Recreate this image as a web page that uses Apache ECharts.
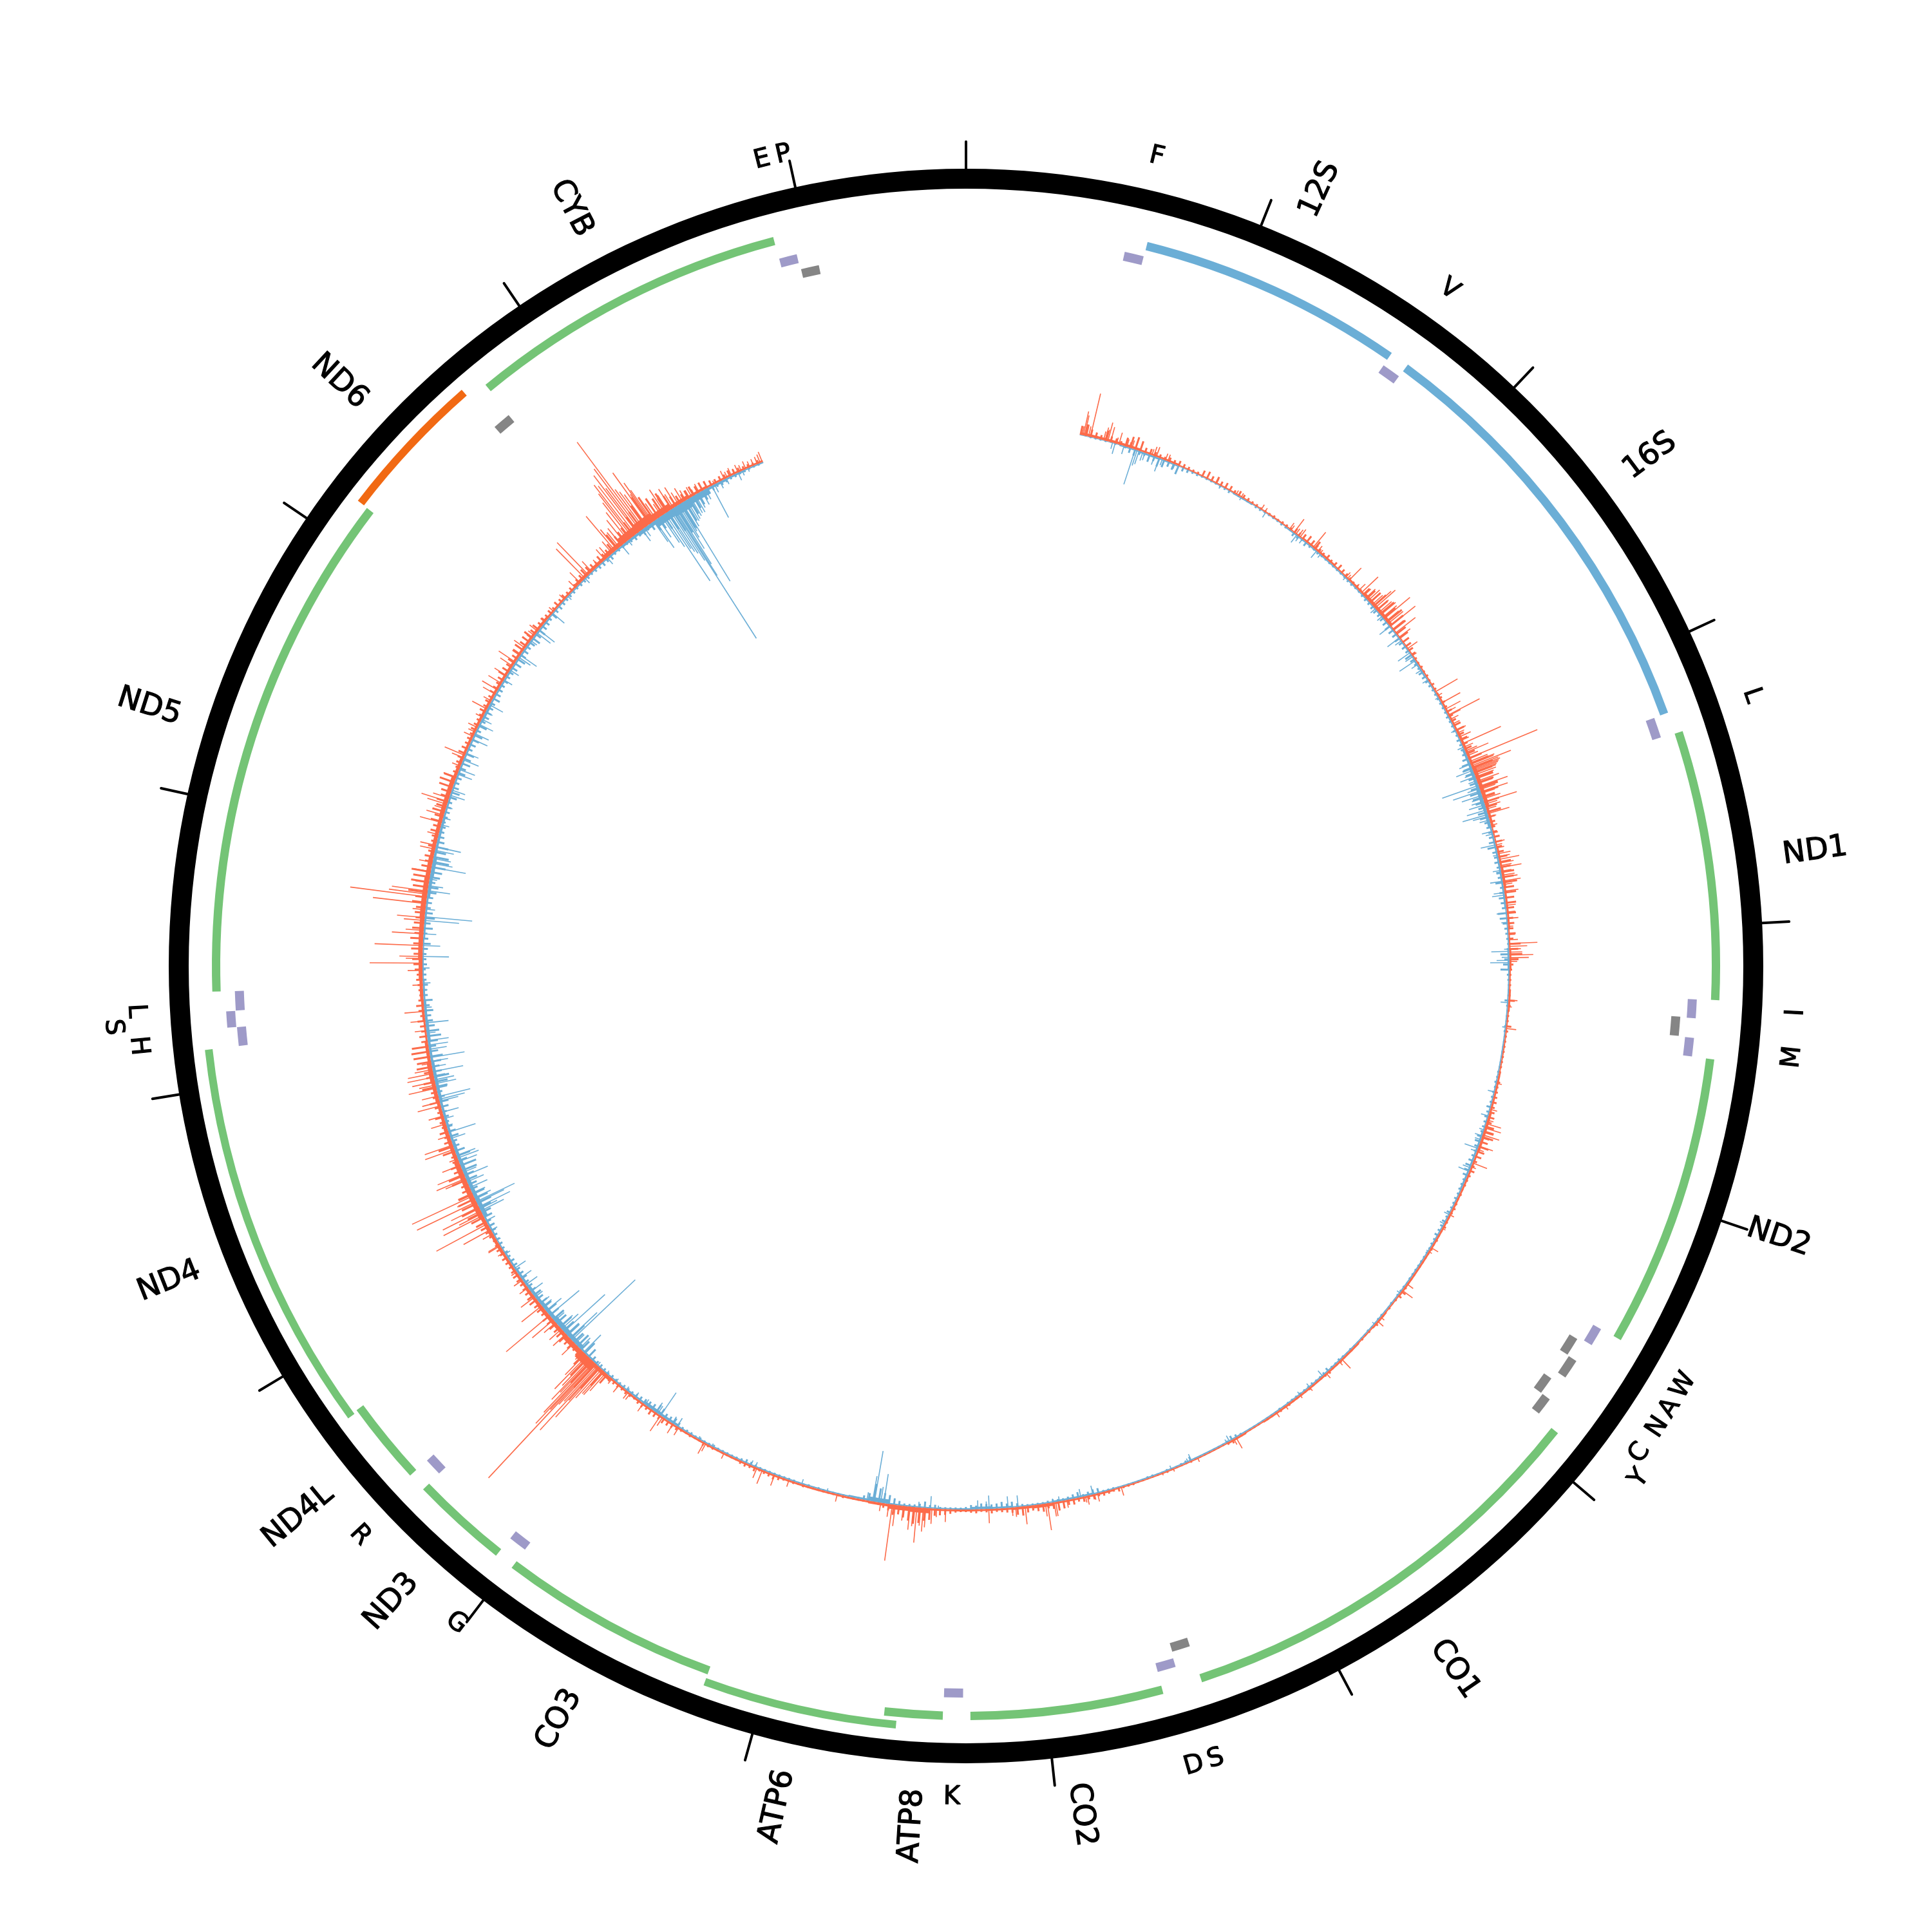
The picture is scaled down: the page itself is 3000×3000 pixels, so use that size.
<!DOCTYPE html>
<html>
<head>
<meta charset="utf-8">
<script src="https://cdn.jsdelivr.net/npm/echarts@6/dist/echarts.min.js"></script>
<style>html,body{margin:0;padding:0;background:#fff}#c{width:3000px;height:3000px}</style>
</head>
<body>
<div id="c"></div>
<script>
const genomeLength = 16569;
const tickInterval = 1000;

const featureNames = ['F','12S','V','16S','L','ND1','I','Q','M','ND2','W','A','N','C','Y','CO1','S','D','CO2','K','ATP8','ATP6','CO3','G','ND3','R','ND4L','ND4','H','S','L','ND5','ND6','E','CYB','T','P'];
const featureStarts = [577,648,1602,1671,3230,3307,4263,4329,4402,4470,5512,5587,5657,5761,5826,5904,7446,7518,7586,8295,8366,8527,9207,9991,10059,10405,10470,10760,12138,12207,12266,12337,14149,14674,14747,15888,15956];
const featureEnds = [647,1601,1670,3229,3304,4262,4331,4400,4469,5511,5579,5655,5729,5826,5891,7445,7514,7585,8269,8364,8572,9207,9990,10058,10404,10469,10766,12137,12206,12265,12336,14148,14673,14742,15887,15953,16023];
const featureKinds = ['trna','rrna','trna','rrna','trna','cds','trna','trnaL','trna','cds','trna','trnaL','trnaM','trnaL','trnaM','cds','trnaL','trna','cds','trna','cds','cdsO','cds','trna','cds','trna','cds','cdsO','trna','trnaS','trna','cds','cdsN','trnaL','cds','trna','trnaL'];

const labelNames = ['F','12S','V','16S','L','ND1','I','M','ND2','W','A','N','C','Y','CO1','S','D','CO2','K','ATP8','ATP6','CO3','G','ND3','R','ND4L','ND4','H','S','L','ND5','ND6','CYB','E','P'];
const labelPositions = [611,1128,1636,2453,3268,3788,4290,4432,4993,5537,5621,5693,5793,5858,6683,7480,7552,7927,8330,8450,8867,9590,10024,10222,10438,10609,11433,12173,12238,12284,13237,14406,15303,15916,15985];
const labelKinds = ['t','g','t','g','t','g','t','t','g','t','t','t','t','v','g','t','t','g','t','g','g','g','t','g','t','g','g','t','u','t','g','g','g','t','t'];

const baseFirst = 560, baseStep = 100;
const redBase = [4,4,4,3,3,2,2,2,2,2,2,2,3,3,2,3,5,5,2,2,2,2,3,3,4,4,6,6,4,2,3,4,3,3,2,3,2,3,2,2,2,3,3,4,4,3,3,3,3,3,3,3,3,2,3,2,3,3,3,3,3,3,2,3,2,2,2,2,2,2,3,3,3,5,4,3,3,3,3,8,7,4,3,3,3,3,3,3,3,3,3,3,3,3,3,3,6,14,8,6,6,5,4,4,5,6,8,8,8,6,6,5,6,7,5,3,4,5,6,7,7,8,8,7,6,6,7,7,5,4,4,4,4,4,4,4,4,3,3,5,5,7,12,14,10,6,4,3,3,3];
const blueBase = [1,1,2,3,2,1,1,1,2,1,1,2,2,2,2,2,2,2,2,2,3,2,2,2,2,4,5,6,5,3,3,3,3,2,2,3,2,2,2,2,2,2,2,2,3,3,3,2,2,2,2,2,2,2,2,2,2,2,2,2,2,2,2,2,2,2,2,2,2,2,2,3,3,2,2,3,4,2,2,2,2,7,3,2,2,2,2,2,2,2,2,2,4,5,3,2,2,3,7,8,6,5,4,3,2,3,7,6,6,5,4,4,5,5,4,5,4,3,2,2,3,3,5,6,4,4,3,3,3,3,3,4,3,3,3,3,3,2,2,2,2,3,4,6,12,14,10,4,3,2];

const fineFirst = 560, fineStep = 25;
const redFine = [
14,18,12,9,7,16,9,8,6,14,18,20,16,8,9,7,6,5,7,6,8,6,5,4,4,10,12,8,11,7,9,8,5,8,6,5,4,4,3,3,
3,4,3,4,4,4,8,6,9,12,10,14,6,5,8,5,7,9,7,6,5,4,5,4,14,18,22,26,22,28,24,30,26,24,18,16,12,10,8,7,
4,3,4,3,4,3,5,4,3,5,6,5,9,7,8,12,14,10,12,9,12,14,22,30,34,30,28,26,30,28,20,24,18,22,10,8,6,7,9,11,
9,10,14,18,16,20,18,22,16,18,14,16,12,14,9,10,8,11,7,18,14,20,14,6,4,3,3,3,3,3,10,4,3,3,3,8,4,3,3,3,
3,3,3,3,3,3,5,4,5,6,7,6,8,10,8,14,16,18,12,16,12,10,6,5,8,5,4,4,3,4,3,4,5,4,3,4,5,3,3,4,
3,4,3,3,3,3,2,3,3,3,4,8,6,3,2,3,2,3,3,5,2,3,2,3,2,2,3,2,3,4,3,3,5,4,3,2,3,4,3,3,
3,3,4,3,4,3,3,3,2,2,2,2,2,3,3,6,4,2,2,2,2,2,2,2,3,2,2,2,2,3,2,2,2,2,2,2,3,3,3,6,
4,5,6,5,8,6,8,6,9,8,12,14,10,8,12,10,8,10,14,12,8,7,6,5,7,5,4,6,5,4,4,5,7,9,10,11,18,20,24,26,
22,18,14,16,10,7,4,3,3,3,3,3,3,4,3,3,3,3,3,3,3,4,3,4,3,4,6,8,6,5,4,7,5,6,5,3,3,3,3,3,
4,4,6,3,3,4,3,4,6,7,8,9,7,8,9,6,7,6,4,5,6,5,6,6,7,18,30,44,50,48,40,24,12,10,14,13,16,14,12,14,
12,14,10,12,11,14,12,10,9,8,9,10,8,7,8,9,8,9,7,6,8,10,14,18,22,24,30,26,28,24,14,12,24,26,14,16,10,9,20,24,
12,9,14,8,9,14,8,10,16,9,10,22,18,12,14,24,22,26,28,26,10,12,8,9,12,7,9,12,8,6,7,8,10,9,12,14,16,14,18,15,
20,14,18,16,14,16,15,22,18,30,24,28,26,30,16,12,14,10,12,9,10,14,12,18,14,20,16,18,14,16,22,24,20,8,7,9,10,12,10,8,
8,7,9,8,7,7,10,8,9,8,10,9,8,10,14,12,10,12,10,14,16,12,14,16,10,12,8,9,7,8,6,9,7,8,6,7,6,9,10,14,
12,10,8,12,10,11,16,28,18,20,22,26,30,34,40,50,44,36,30,34,24,18,14,12,14,16,12,14,12,9,7,8,7,10,8,7,6,6,5,6];
const blueFine = [
1,1,2,2,2,2,1,2,2,3,8,10,6,5,12,8,14,12,8,10,14,6,5,3,3,2,2,2,2,3,3,4,2,2,2,2,2,3,3,2,
2,2,2,3,3,2,6,5,3,7,4,3,4,3,3,3,3,3,3,3,4,4,3,3,4,5,5,6,7,6,7,8,10,9,8,9,7,7,6,12,
8,6,5,8,7,6,5,4,4,4,4,4,4,5,4,4,5,4,6,5,6,7,10,14,16,14,12,13,14,18,16,14,12,15,14,9,8,7,8,10,
14,8,7,8,6,8,7,12,6,8,10,8,7,14,12,8,6,5,4,3,4,14,8,10,14,4,3,2,2,2,6,3,2,2,2,3,3,2,2,2,
2,2,2,2,3,3,4,3,4,4,4,7,5,6,5,5,5,8,9,7,5,6,8,10,9,8,5,5,5,4,5,4,4,6,4,6,5,5,6,4,
4,3,3,3,3,3,3,3,3,2,3,3,3,2,3,2,2,3,3,2,2,3,2,2,2,2,3,2,3,4,3,3,6,4,3,3,4,3,3,3,
3,3,3,2,3,2,2,2,2,2,2,2,2,3,5,7,3,2,2,2,2,2,2,2,7,4,3,2,2,3,2,2,3,3,2,2,2,2,2,2,
3,3,3,8,8,6,4,9,7,5,4,4,5,4,3,3,3,3,4,6,9,7,10,8,7,8,9,6,7,4,3,3,3,3,3,6,5,10,6,4,
4,4,7,10,14,16,22,28,12,7,3,2,2,2,2,2,2,2,3,2,3,2,2,3,3,3,3,3,3,3,3,4,5,6,4,3,3,3,3,3,
4,3,3,4,3,4,4,4,7,10,8,8,12,14,10,9,8,7,6,5,5,5,4,4,5,4,5,6,6,8,16,22,18,24,20,30,26,22,24,20,
22,18,20,16,14,12,14,10,9,8,10,9,8,8,8,6,6,5,6,6,6,8,10,8,14,16,20,24,22,20,12,14,18,16,24,26,14,22,16,10,
9,14,12,9,6,8,7,12,14,10,8,18,20,24,14,12,16,20,14,12,16,22,20,14,12,10,14,9,14,7,6,8,6,6,5,7,6,6,8,12,
8,6,14,10,16,12,8,9,10,14,16,10,16,18,22,26,24,18,20,12,10,8,8,6,7,8,8,7,12,14,10,8,9,12,10,14,12,14,8,10,
12,14,8,14,8,10,10,9,8,12,9,8,7,8,7,8,10,12,14,10,9,8,10,14,10,12,9,8,6,10,6,7,6,5,5,5,4,5,5,5,
4,5,6,7,6,8,5,5,5,5,6,8,7,10,7,12,18,20,26,32,40,48,44,36,28,22,20,16,10,8,6,7,6,5,5,4,4,3,3,3];

const redPeaks = [[562,12],[568,14],[574,38],[580,32],[590,18],[600,16],[609,69],[675,14],[683,21],[690,18],[696,30],[710,24],[740,10],[752,19],[792,12],[805,9],[818,13],[920,10],[930,15],[943,16],[990,11],[1003,11],[1263,8],[1372,7],[1385,6],[1400,7],[1514,9],[1535,7],[1681,12],[1690,9],[1708,26],[1720,10],[1735,12],[1745,15],[1826,31],[1840,8],[1855,11],[1870,7],[1984,9],[2040,10],[2050,8],[2062,27],[2110,7],[2130,14],[2147,36],[2165,15],[2180,20],[2197,24],[2210,18],[2225,22],[2237,36],[2246,42],[2260,24],[2275,26],[2290,30],[2305,28],[2315,52],[2330,25],[2345,30],[2361,50],[2380,22],[2403,39],[2430,22],[2460,12],[2499,19],[2540,8],[2748,40],[2770,8],[2810,33],[2845,27],[2860,16],[2877,55],[2881,21],[2900,14],[2925,12],[2960,17],[2975,12],[2996,20],[3015,14],[3032,66],[3050,16],[3070,20],[3078,38],[3095,18],[3108,116],[3125,30],[3135,40],[3140,38],[3148,66],[3155,44],[3162,46],[3168,43],[3174,41],[3180,38],[3185,36],[3195,35],[3205,30],[3215,28],[3227,36],[3240,24],[3254,47],[3265,30],[3270,25],[3282,44],[3290,22],[3305,20],[3318,28],[3334,53],[3345,20],[3356,24],[3370,16],[3393,35],[3410,12],[3452,10],[3490,8],[3535,15],[3550,10],[3565,12],[3594,20],[3608,18],[3622,32],[3640,22],[3652,18],[3662,33],[3680,16],[3700,20],[3710,24],[3728,28],[3745,14],[3778,22],[3810,10],[3847,15],[3880,13],[3911,17],[3950,8],[3990,10],[4015,14],[4033,44],[4047,28],[4060,18],[4075,20],[4089,37],[4102,30],[4120,12],[4308,14],[4340,6],[4446,16],[4716,8],[4846,11],[4900,10],[4918,24],[4930,14],[4940,26],[4955,16],[4975,27],[4990,12],[5032,23],[5050,10],[5120,24],[5140,8],[5395,8],[5470,6],[5578,13],[5600,6],[5790,12],[5828,20],[5995,7],[6020,12],[6273,20],[6290,8],[6375,10],[6480,7],[6540,6],[6628,7],[6683,9],[6913,19],[6926,10],[7124,7],[7253,5],[7310,4],[7521,14],[7640,13],[7655,9],[7691,14],[7700,10],[7792,12],[7847,22],[7855,22],[7888,42],[7898,20],[7997,28],[8043,15],[8060,13],[8174,22],[8383,20],[8427,13],[8450,24],[8480,30],[8492,37],[8505,28],[8523,55],[8540,30],[8556,36],[8589,23],[8628,33],[8643,88],[8660,20],[8700,13],[8915,12],[9159,11],[9233,18],[9297,23],[9325,17],[9500,10],[9600,14],[9610,20],[9753,14],[9785,17],[9845,16],[9858,29],[9960,15],[10040,12],[10052,13],[10108,15],[10153,10],[10195,37],[10205,48],[10213,48],[10222,60],[10231,103],[10238,70],[10243,134],[10250,76],[10258,85],[10264,243],[10270,100],[10275,131],[10282,110],[10290,70],[10296,87],[10305,60],[10319,72],[10330,45],[10346,17],[10406,27],[10466,27],[10498,25],[10540,24],[10558,43],[10586,88],[10646,40],[10701,27],[10756,16],[10802,16],[10850,10],[10963,11],[11005,20],[11069,18],[11000,21],[11092,48],[11124,90],[11170,69],[11180,40],[11194,66],[11215,48],[11244,102],[11260,30],[11276,105],[11290,24],[11359,35],[11368,49],[11391,44],[11437,30],[11470,14],[11520,48],[11542,46],[11589,19],[11649,24],[11690,24],[11741,37],[11760,28],[11790,26],[11829,44],[11845,26],[11861,36],[11884,42],[11902,40],[11921,28],[11952,15],[11985,19],[12113,18],[12160,23],[12206,31],[12335,16],[12405,23],[12441,82],[12463,26],[12473,36],[12526,75],[12583,49],[12600,28],[12648,32],[12662,43],[12700,20],[12730,83],[12763,120],[12776,60],[12791,56],[12832,21],[12860,16],[12887,28],[12933,21],[12998,24],[13017,25],[13071,18],[13131,35],[13168,28],[13200,18],[13223,32],[13237,43],[13255,26],[13362,21],[13420,14],[13463,20],[13476,34],[13577,16],[13600,12],[13624,16],[13680,12],[13725,26],[13770,14],[13808,22],[13831,28],[13868,24],[13913,22],[13968,23],[13991,31],[14030,14],[14074,21],[14130,10],[14150,12],[14176,16],[14240,8],[14300,10],[14378,11],[14456,15],[14489,23],[14521,64],[14544,70],[14567,22],[14610,12],[14654,21],[14672,20],[14700,24],[14719,70],[14730,40],[14745,30],[14760,34],[14780,45],[14800,55],[14815,70],[14825,85],[14833,100],[14845,95],[14857,112],[14865,85],[14875,120],[14885,169],[14895,75],[14905,68],[14915,60],[14930,98],[14938,55],[14944,75],[14950,60],[14958,34],[14970,30],[14985,22],[15000,22],[15022,44],[15030,26],[15040,30],[15059,37],[15070,25],[15087,34],[15100,22],[15124,25],[15140,18],[15155,14],[15174,17],[15190,10],[15216,15],[15260,8],[15300,6],[15354,14],[15370,10],[15392,13],[15410,9],[15428,13],[15445,10],[15469,13],[15490,10],[15510,11],[15530,12],[15545,14],[15556,17]];

const bluePeaks = [[733,17],[720,10],[778,13],[835,57],[845,25],[855,22],[874,14],[885,12],[934,14],[960,22],[975,10],[1040,8],[1285,5],[1400,5],[1540,9],[1726,15],[1740,9],[1760,8],[1850,14],[1875,7],[2040,6],[2250,10],[2300,10],[2361,21],[2433,23],[2450,12],[2522,23],[2545,14],[2568,30],[2590,12],[2623,11],[2680,10],[2780,6],[2960,8],[3050,10],[3139,19],[3155,14],[3171,28],[3190,16],[3203,25],[3225,14],[3249,60],[3265,20],[3277,45],[3300,33],[3315,18],[3330,20],[3348,26],[3374,32],[3397,41],[3406,25],[3425,16],[3482,17],[3495,12],[3549,24],[3600,8],[3676,13],[3690,8],[3729,20],[3785,17],[3797,20],[3885,16],[3930,10],[4060,8],[4071,28],[4100,12],[4115,20],[4126,30],[4320,12],[4440,6],[4759,11],[4879,12],[4950,8],[4980,12],[5000,10],[5045,22],[5060,10],[5146,13],[5164,18],[5395,9],[5446,8],[5600,4],[5845,6],[6040,5],[6397,11],[6480,7],[6540,6],[6950,10],[6965,6],[7157,11],[7175,6],[7263,6],[7663,14],[7723,13],[7829,8],[7860,6],[8031,18],[8080,18],[8172,21],[8185,12],[8227,14],[8419,5],[8457,19],[8515,9],[8685,46],[8700,25],[8731,80],[8740,40],[8768,13],[8966,5],[9094,8],[9334,8],[9357,8],[9568,5],[9642,5],[9762,15],[9790,12],[9858,43],[9875,14],[9886,18],[9950,10],[10010,9],[10066,7],[10130,6],[10190,6],[10250,7],[10342,38],[10369,23],[10402,20],[10425,136],[10438,58],[10455,25],[10480,86],[10498,35],[10512,27],[10550,20],[10586,60],[10614,31],[10640,18],[10659,18],[10700,15],[10733,23],[10774,22],[10816,20],[10871,21],[10954,9],[11032,7],[11088,11],[11140,16],[11194,40],[11205,30],[11216,54],[11238,47],[11244,66],[11265,28],[11290,22],[11320,30],[11350,28],[11382,39],[11400,22],[11456,30],[11474,35],[11488,31],[11510,14],[11575,24],[11607,44],[11640,10],[11676,15],[11709,26],[11764,30],[11773,41],[11787,51],[11829,17],[11851,33],[11870,31],[11890,18],[11911,48],[11934,22],[11961,27],[11980,54],[12021,28],[12042,31],[12064,33],[12100,14],[12150,36],[12225,12],[12310,7],[12344,12],[12417,11],[12473,41],[12526,27],[12583,20],[12648,54],[12666,74],[12703,15],[12793,35],[12818,23],[12850,12],[12909,54],[12928,32],[12952,28],[12993,30],[13010,40],[13120,13],[13155,12],[13210,10],[13270,24],[13296,22],[13378,24],[13403,26],[13453,26],[13489,21],[13563,26],[13592,24],[13642,24],[13670,17],[13710,12],[13749,24],[13889,15],[13945,16],[14020,22],[14033,31],[14120,12],[14168,27],[14185,31],[14290,24],[14400,8],[14521,10],[14668,13],[14760,18],[14800,10],[14885,22],[14900,16],[14954,39],[14962,52],[14980,36],[15000,50],[15010,60],[15022,126],[15032,68],[15040,75],[15050,80],[15060,95],[15068,240],[15073,125],[15080,105],[15092,79],[15100,60],[15108,50],[15115,46],[15119,143],[15130,45],[15145,38],[15155,36],[15168,33],[15180,30],[15193,31],[15205,25],[15230,24],[15250,18],[15285,56],[15300,14],[15330,12],[15364,10],[15428,13],[15450,8],[15480,6]];

const RING = [1207,1238];
const BASELINE = 844;
const TRACKS = {
  cds:{r:[1158,1171],c:'#74c476'}, cdsO:{r:[1177,1189],c:'#74c476'}, cdsN:{r:[1177,1189],c:'#f16913'},
  rrna:{r:[1146,1159],c:'#6baed6'}, trna:{r:[1122,1136],c:'#9e9ac8'}, trnaS:{r:[1137,1151],c:'#9e9ac8'},
  trnaL:{r:[1098,1112],c:'#858585'}, trnaM:{r:[1115,1129],c:'#858585'}
};
const LABEL_RADIUS = { t: 1291, u: 1328, v: 1314 };
const RED = '#fc6b4a', BLUE = '#6baed6';
const rad = d => d * Math.PI / 180;

function arc(api, p0, p1, r0, r1, fill) {
  const o = api.coord([0, 0]);
  const a = api.coord([r1, p0]), b = api.coord([r1, p1]), c = api.coord([r0, p0]);
  const A0 = Math.atan2(a[1] - o[1], a[0] - o[0]);
  let A1 = Math.atan2(b[1] - o[1], b[0] - o[0]);
  if (A1 <= A0) A1 += Math.PI * 2;
  return { type: 'sector', silent: true,
    shape: { cx: o[0], cy: o[1], r0: Math.hypot(c[0] - o[0], c[1] - o[1]), r: Math.hypot(a[0] - o[0], a[1] - o[1]), startAngle: A0, endAngle: A1, clockwise: true },
    style: { fill: fill } };
}
const base = { type: 'custom', coordinateSystem: 'polar', silent: true, animation: false, clip: false };

const ringRows = [[0, genomeLength / 2], [genomeLength / 2, genomeLength]];
const featureRows = featureNames.map((_, i) => [featureStarts[i], featureEnds[i], i]);
const stepRows = arr => arr.map((v, i) => [baseFirst + i * baseStep, baseFirst + (i + 1) * baseStep, v]);
const fineRows = arr => arr.map((v, i) => [fineFirst + i * fineStep, v]);
const labelRows = labelNames.map((_, i) => [labelPositions[i], i]);

function spike(color, dir, width) {
  return (params, api) => {
    const p = api.value(0), v = api.value(1);
    const a = api.coord([BASELINE, p]), b = api.coord([BASELINE + dir * v, p]);
    return { type: 'line', silent: true, shape: { x1: a[0], y1: a[1], x2: b[0], y2: b[1] }, style: { stroke: color, lineWidth: width } };
  };
}

const option = {
  animation: false,
  backgroundColor: '#fff',
  polar: { center: [1500, 1500], radius: 1280 },
  radiusAxis: { min: 0, max: 1280, show: false },
  angleAxis: {
    type: 'value', min: 0, max: genomeLength, interval: tickInterval, startAngle: 90, clockwise: true,
    axisLine: { show: false }, splitLine: { show: false }, axisLabel: { show: false }, minorTick: { show: false },
    axisTick: { show: true, inside: true, length: 42, lineStyle: { color: '#000', width: 4, cap: 'round' } }
  },
  series: [
    Object.assign({}, base, { name: 'blue base', data: stepRows(blueBase), z: 3,
      renderItem: (p, api) => arc(api, api.value(0), api.value(1), BASELINE - api.value(2), BASELINE, BLUE) }),
    Object.assign({}, base, { name: 'blue fine', data: fineRows(blueFine), z: 3, renderItem: spike(BLUE, -1, 3) }),
    Object.assign({}, base, { name: 'blue peaks', data: bluePeaks, z: 3, renderItem: spike(BLUE, -1, 1.6) }),
    Object.assign({}, base, { name: 'red base', data: stepRows(redBase), z: 4,
      renderItem: (p, api) => arc(api, api.value(0), api.value(1), BASELINE, BASELINE + api.value(2), RED) }),
    Object.assign({}, base, { name: 'red fine', data: fineRows(redFine), z: 4, renderItem: spike(RED, 1, 3) }),
    Object.assign({}, base, { name: 'red peaks', data: redPeaks, z: 4, renderItem: spike(RED, 1, 1.6) }),
    Object.assign({}, base, { name: 'ring', data: ringRows, z: 5,
      renderItem: (p, api) => arc(api, api.value(0), api.value(1), RING[0], RING[1], '#000') }),
    Object.assign({}, base, { name: 'features', data: featureRows, z: 5,
      renderItem: (p, api) => { const t = TRACKS[featureKinds[api.value(2)]];
        return arc(api, api.value(0), api.value(1), t.r[0], t.r[1], t.c); } }),
    Object.assign({}, base, { name: 'labels', data: labelRows, z: 6,
      renderItem: (p, api) => {
        const pos = api.value(0), i = api.value(1), k = labelKinds[i];
        const th = pos / genomeLength * 360;
        let rot, align = 'center', r, size;
        if (k === 'g') { r = 1280; size = 47; const right = th < 180; rot = right ? 90 - th : 270 - th; align = right ? 'left' : 'right'; }
        else { r = LABEL_RADIUS[k]; size = 40; rot = th < 90 ? -th : (th < 270 ? 180 - th : 360 - th); }
        const c = api.coord([r, pos]);
        return { type: 'text', silent: true, x: c[0], y: c[1], rotation: rad(rot),
          style: { text: labelNames[i], fontFamily: 'DejaVu Sans', fontSize: size, fill: '#000', stroke: '#000', lineWidth: 1.2, align: align, verticalAlign: 'middle' } };
      } })
  ]
};
echarts.init(document.getElementById('c'), null, { renderer: 'canvas' }).setOption(option);
</script>
</body>
</html>
